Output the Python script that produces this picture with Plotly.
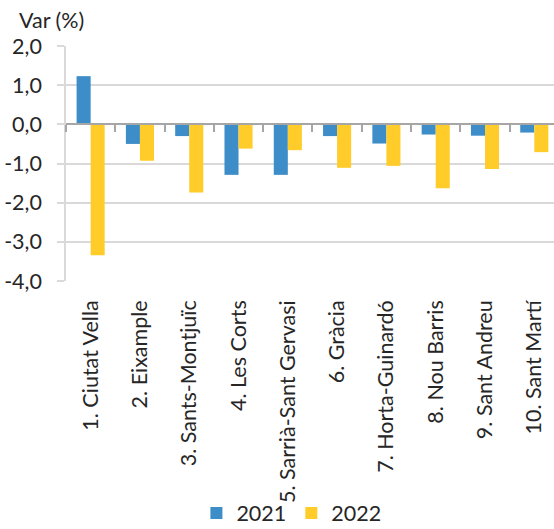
import plotly.graph_objects as go

categories = ["1. Ciutat Vella", "2. Eixample", "3. Sants-Montjuïc", "4. Les Corts",
              "5. Sarrià-Sant Gervasi", "6. Gràcia", "7. Horta-Guinardó",
              "8. Nou Barris", "9. Sant Andreu", "10. Sant Martí"]
values_2021 = [1.23, -0.50, -0.30, -1.29, -1.29, -0.30, -0.49, -0.26, -0.29, -0.21]
values_2022 = [-3.34, -0.93, -1.74, -0.62, -0.66, -1.11, -1.06, -1.63, -1.14, -0.71]
series_names = ["2021", "2022"]
y_ticks = [2, 1, 0, -1, -2, -3, -4]
y_tick_labels = ["2,0", "1,0", "0,0", "-1,0", "-2,0", "-3,0", "-4,0"]

FONT = "Lato"
FS = 21.5
TXT = "#262626"
GRID = "#D9D9D9"

fig = go.Figure()
fig.add_trace(go.Bar(x=categories, y=values_2021, name=series_names[0],
                     marker=dict(color="#3C8DC8", line=dict(width=0))))
fig.add_trace(go.Bar(x=categories, y=values_2022, name=series_names[1],
                     marker=dict(color="#FFCC29", line=dict(width=0))))

n = len(categories)
fig.add_trace(go.Scatter(x=[0], y=[0], xaxis="x2", yaxis="y", mode="markers",
                         marker=dict(opacity=0), showlegend=False, hoverinfo="skip"))

fig.update_layout(
    width=554, height=529,
    margin=dict(l=66, r=0, t=46, b=248, autoexpand=False),
    paper_bgcolor="white", plot_bgcolor="white",
    font=dict(family=FONT, size=FS, color=TXT),
    barmode="group", bargap=0.43, bargroupgap=0,
    xaxis=dict(range=[-0.5, n - 0.6], tickangle=-90, showgrid=False,
               showline=False, ticks="", ticklabelstandoff=14, automargin=False,
               tickfont=dict(family=FONT, size=FS, color=TXT), zeroline=False),
    xaxis2=dict(overlaying="x", range=[-0.5, n - 0.6], anchor="free",
                position=4 / 6, showline=True, linecolor="#A6A6A6", linewidth=2,
                ticks="outside", ticklen=7, tickwidth=2, tickcolor="#A6A6A6",
                tickvals=[i - 0.5 for i in range(n + 1)], showticklabels=False,
                showgrid=False, zeroline=False, automargin=False),
    yaxis=dict(range=[-4, 2], tickvals=y_ticks, ticktext=y_tick_labels,
               showgrid=True, gridcolor=GRID, gridwidth=1.5, zeroline=False,
               showline=True, linecolor=GRID, linewidth=1.5, automargin=False,
               ticks="outside", ticklen=7, tickcolor=GRID, tickwidth=1.5,
               ticklabelstandoff=11,
               tickfont=dict(family=FONT, size=FS, color=TXT)),
    legend=dict(orientation="h", xref="container", yref="container",
                x=0.526, xanchor="center", y=0.03, yanchor="middle",
                font=dict(family=FONT, size=FS, color=TXT),
                itemwidth=30, tracegroupgap=0, bgcolor="rgba(0,0,0,0)"),
    showlegend=True,
    annotations=[dict(text="Var (%)", xref="paper", yref="paper",
                      x=0, y=1, xshift=-49, yshift=26, xanchor="left",
                      yanchor="middle", showarrow=False,
                      font=dict(family=FONT, size=FS, color=TXT))],
)

fig.write_html("out.html", config={"displayModeBar": False},
               post_script="document.body.style.margin='0';document.body.style.overflow='hidden';")
